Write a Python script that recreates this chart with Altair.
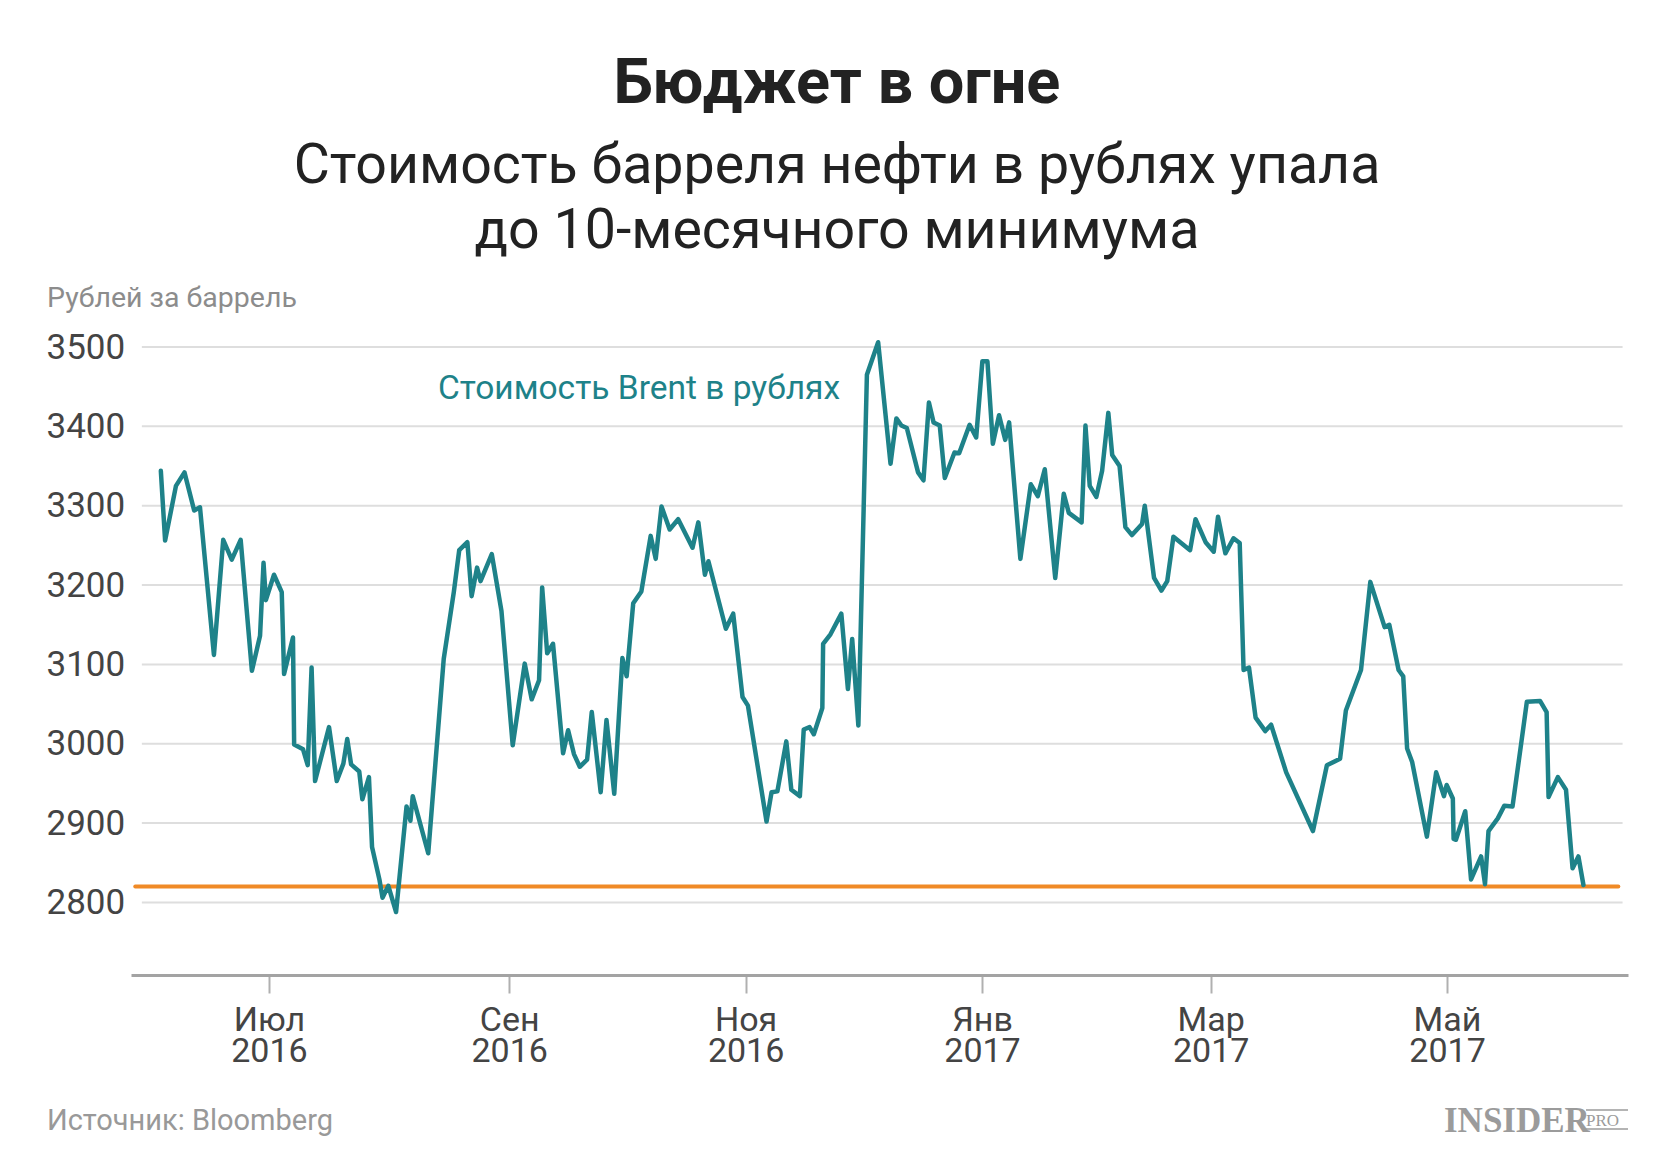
import json
import altair as alt
import pandas as pd

# ---------------- data ----------------
BASE_DATE = "2016-07-01"

# days after 2016-07-01 (fractional)
days = [
    -27.9, -26.8, -24.0, -21.8, -19.3, -17.8, -14.2, -11.8, -9.6, -7.3,
    -4.4, -2.3, -1.4, -0.8, 1.3, 3.3, 3.9, 6.2, 6.5, 8.8,
    10.0, 11.0, 11.9, 15.5, 17.5, 19.2, 20.2, 21.2, 23.3, 24.1,
    25.8, 26.6, 28.5, 29.3, 30.8, 32.8, 35.5, 36.5, 37.1, 41.1,
    45.1, 47.7, 49.1, 51.2, 52.3, 53.7, 54.6, 57.5, 60.0, 62.9,
    66.0, 67.8, 69.7, 70.5, 71.8, 73.3, 75.9, 77.2, 78.7, 80.2,
    82.1, 83.3, 85.6, 87.1, 89.1, 91.2, 92.3, 94.0, 96.1, 98.5,
    99.8, 101.3, 103.4, 105.6, 109.3, 110.8, 112.5, 113.4, 117.9, 119.8,
    122.2, 123.6, 128.4, 129.7, 131.2, 133.5, 134.8, 137.0, 138.0, 139.5,
    140.6, 142.8, 143.0, 144.9, 147.7, 149.4, 150.5, 152.1, 154.3, 157.2,
    160.4, 161.9, 163.2, 164.6, 167.5, 168.9, 170.3, 171.5, 173.1, 174.4,
    176.9, 178.1, 180.8, 182.5, 184.1, 185.4, 186.8, 188.4, 190.0, 191.0,
    193.9, 196.6, 198.4, 200.2, 202.9, 205.1, 206.4, 209.7, 210.7, 211.8,
    213.5, 215.0, 216.6, 217.6, 219.5, 221.0, 222.7, 225.3, 226.0, 228.4,
    230.3, 231.8, 233.4, 237.7, 239.1, 241.7, 243.8, 244.9, 246.8, 248.9,
    250.5, 251.5, 252.9, 254.6, 257.1, 258.6, 262.5, 269.4, 273.0, 276.4,
    277.9, 281.8, 284.2, 287.9, 289.1, 291.5, 292.7, 293.7, 295.0, 298.8,
    301.2, 303.2, 303.9, 305.5, 305.7, 306.3, 308.7, 310.2, 312.8, 313.8,
    314.7, 317.1, 318.8, 320.9, 323.1, 324.6, 328.0, 329.7, 330.2, 332.6,
    334.7, 336.4, 337.9, 339.2,
]

rub_per_barrel = [
    3344, 3256, 3325, 3342, 3294, 3298, 3112, 3257, 3232, 3257,
    3092, 3136, 3228, 3181, 3213, 3191, 3088, 3134, 2999, 2993,
    2973, 3096, 2953, 3021, 2953, 2975, 3006, 2974, 2965, 2930,
    2958, 2870, 2829, 2806, 2821, 2788, 2921, 2903, 2934, 2862,
    3107, 3191, 3244, 3254, 3186, 3222, 3205, 3239, 3167, 2998,
    3101, 3056, 3080, 3197, 3114, 3126, 2988, 3017, 2987, 2971,
    2980, 3040, 2939, 3030, 2937, 3108, 3085, 3177, 3192, 3262,
    3233, 3299, 3270, 3283, 3247, 3279, 3213, 3230, 3145, 3164,
    3059, 3048, 2902, 2939, 2940, 3003, 2942, 2934, 3018, 3021,
    3012, 3045, 3126, 3138, 3164, 3069, 3132, 3023, 3465, 3506,
    3353, 3410, 3401, 3398, 3342, 3332, 3430, 3405, 3401, 3335,
    3367, 3366, 3402, 3386, 3482, 3482, 3378, 3414, 3383, 3405,
    3233, 3327, 3312, 3346, 3209, 3315, 3291, 3279, 3401, 3325,
    3311, 3344, 3417, 3364, 3350, 3273, 3263, 3277, 3300, 3209,
    3193, 3205, 3261, 3244, 3283, 3254, 3242, 3286, 3240, 3259,
    3253, 3093, 3096, 3033, 3016, 3024, 2964, 2890, 2973, 2981,
    3042, 3093, 3204, 3147, 3150, 3093, 3085, 2994, 2977, 2883,
    2964, 2934, 2948, 2931, 2880, 2879, 2915, 2829, 2858, 2823,
    2890, 2906, 2922, 2921, 2999, 3053, 3054, 3040, 2933, 2958,
    2942, 2843, 2858, 2822,
]

month_names = ["Янв", "Фев", "Мар", "Апр", "Май", "Июн",
               "Июл", "Авг", "Сен", "Окт", "Ноя", "Дек"]
tick_dates = ["2016-07-01", "2016-09-01", "2016-11-01",
              "2017-01-01", "2017-03-01", "2017-05-01"]
y_ticks = [2800, 2900, 3000, 3100, 3200, 3300, 3400, 3500]
y_domain = [2708.6, 3500]
x_domain_days = [-35.6, 350.7]
grid_span_days = [-32.8, 349.3]
threshold_value = [2820]
threshold_span_days = [-34.5, 348.2]

title_text = "Бюджет в огне"
subtitle_lines = ["Стоимость барреля нефти в рублях упала", "до 10-месячного минимума"]
y_title_text = "Рублей за баррель"
series_label = "Стоимость Brent в рублях"
source_text = "Источник: Bloomberg"
logo_text = "INSIDER"
logo_small = "PRO"

TEAL = "#1e8289"
ORANGE = "#f08a26"


# ---------------- helpers ----------------
def ts(d):
    return pd.Timestamp(BASE_DATE) + pd.to_timedelta(d, unit="D")


def iso(d):
    return ts(d).strftime("%Y-%m-%dT%H:%M:%S")


def dt(d):
    t = ts(d)
    return alt.DateTime(year=t.year, month=t.month, date=t.day,
                        hours=t.hour, minutes=t.minute)


line_df = pd.DataFrame({"date": [iso(d) for d in days], "value": rub_per_barrel})
grid_df = pd.DataFrame({"x": iso(grid_span_days[0]), "x2": iso(grid_span_days[1]), "value": y_ticks})
thr_df = pd.DataFrame({"x": iso(threshold_span_days[0]), "x2": iso(threshold_span_days[1]),
                       "value": threshold_value})

tick_values = []
for s in tick_dates:
    t = pd.Timestamp(s)
    tick_values.append(alt.DateTime(year=t.year, month=t.month, date=t.day))

label_expr = "[" + json.dumps(month_names, ensure_ascii=False) + "[month(datum.value)], '' + year(datum.value)]"

x_scale = alt.Scale(domain=[dt(x_domain_days[0]), dt(x_domain_days[1])])
x_axis = alt.Axis(values=tick_values, labelExpr=label_expr, title=None, grid=False,
                  domainColor="#a3a3a3", domainWidth=3, tickColor="#b0b0b0", tickWidth=2,
                  tickSize=18, labelPadding=10, labelFontSize=34, labelColor="#444444",
                  labelLineHeight=31.6, labelFont="Roboto", labelOverlap=False)
y_scale = alt.Scale(domain=y_domain, nice=False, zero=False)
y_axis = alt.Axis(values=y_ticks, format="d", title=None, grid=False, domain=False, ticks=False,
                  tickSize=0, labelAlign="left", labelBaseline="middle", labelPadding=85,
                  labelFontSize=35, labelColor="#444444", labelFont="Roboto", labelOverlap=False)

grid = alt.Chart(grid_df).mark_rule(color="#dedede", strokeWidth=2).encode(
    x=alt.X("x:T", scale=x_scale, axis=x_axis),
    x2="x2:T",
    y=alt.Y("value:Q", scale=y_scale, axis=y_axis),
)

thr = alt.Chart(thr_df).mark_rule(color=ORANGE, strokeWidth=4, strokeCap="round").encode(
    x=alt.X("x:T", scale=x_scale, axis=x_axis),
    x2="x2:T",
    y=alt.Y("value:Q", scale=y_scale, axis=y_axis),
)

line = alt.Chart(line_df).mark_line(color=TEAL, strokeWidth=4.5, strokeJoin="round",
                                    strokeCap="round").encode(
    x=alt.X("date:T", scale=x_scale, axis=x_axis),
    y=alt.Y("value:Q", scale=y_scale, axis=y_axis),
)


def text_layer(txt, x, y, size, color, align="left", weight="normal", font="Roboto"):
    return alt.Chart(pd.DataFrame({"t": [txt]})).mark_text(
        align=align, baseline="alphabetic", fontSize=size, color=color,
        fontWeight=weight, font=font
    ).encode(x=alt.value(x), y=alt.value(y), text="t:N")


def deco_rule(x1, x2, y, color, width):
    return alt.Chart(pd.DataFrame({"k": [0]})).mark_rule(color=color, strokeWidth=width).encode(
        x=alt.value(x1), x2=alt.value(x2), y=alt.value(y))


LOGO_GREY = "#9b9b9b"
texts = [
    text_layer(title_text, 706, -243.7, 63, "#222222", align="center", weight="bold"),
    text_layer(subtitle_lines[0], 706, -164.5, 55.5, "#222222", align="center"),
    text_layer(subtitle_lines[1], 706, -99.5, 55.5, "#222222", align="center"),
    text_layer(y_title_text, -84, -40.3, 28.5, "#8c8c8c"),
    text_layer(series_label, 307, 52, 33.5, TEAL),
    text_layer(source_text, -84, 783, 29, "#999999"),
    text_layer(logo_text, 1313, 785, 35, LOGO_GREY, weight="bold", font="Liberation Serif"),
    text_layer(logo_small, 1455, 779, 17, LOGO_GREY, font="Liberation Serif"),
    deco_rule(1455, 1497, 763, LOGO_GREY, 1.5),
    deco_rule(1455, 1497, 782, LOGO_GREY, 1.5),
]

chart = alt.layer(grid, thr, line, *texts).properties(
    width=1497, height=628,
    padding={"left": 123, "top": 339, "right": 20, "bottom": 170},
    autosize=alt.AutoSizeParams(type="none"),
    background="white",
).configure(font="Roboto").configure_view(strokeWidth=0, stroke=None)

chart.save("out.html", embed_options={"renderer": "svg", "actions": False})
